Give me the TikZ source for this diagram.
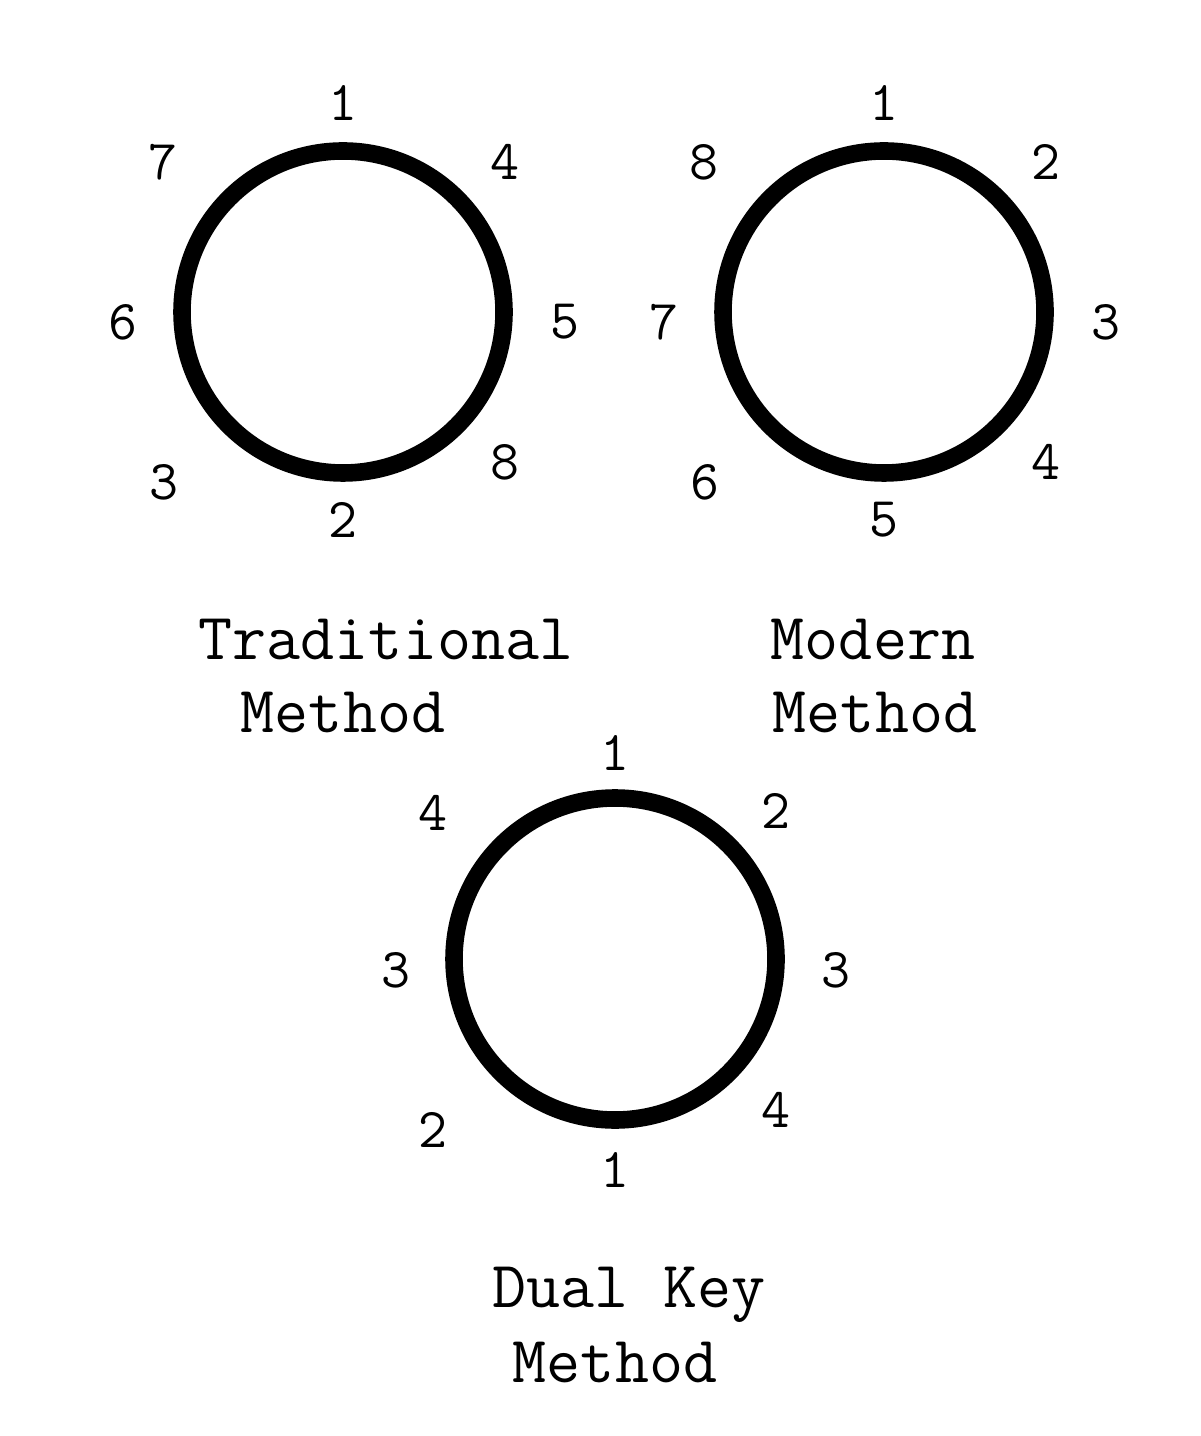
\documentclass[tikz,border=0pt]{standalone}
\begin{document}
\begin{tikzpicture}[
  ring/.style={draw,circle,line width=5pt,minimum size=3.22cm,inner sep=0pt},
  num/.style={font=\ttfamily\fontsize{16}{16}\selectfont},
  caption/.style={font=\ttfamily\fontsize{18.8}{20}\selectfont}]
\useasboundingbox (0,0) rectangle (12,-14.36);

% the three rings
\node[ring] (trad) at (3.43,-3.12) {};
\node[ring] (modern) at (8.84,-3.12) {};
\node[ring] (dual) at (6.15,-9.59) {};

% numbers round each ring
\foreach \x/\y/\n [count=\i] in {0/2.09/1, 1.62/1.50/4, 2.22/-0.10/5, 1.62/-1.50/8,
    0/-2.08/2, -1.79/-1.70/3, -2.20/-0.10/6, -1.80/1.50/7}
  \node[num] (tradn\i) at ([shift={(\x,\y)}]trad.center) {\n};
\foreach \x/\y/\n [count=\i] in {0/2.09/1, 1.62/1.50/2, 2.22/-0.10/3, 1.62/-1.50/4,
    0/-2.08/5, -1.79/-1.70/6, -2.20/-0.10/7, -1.80/1.50/8}
  \node[num] (modernn\i) at ([shift={(\x,\y)}]modern.center) {\n};
\foreach \x/\y/\n [count=\i] in {0/2.06/1, 1.61/1.48/2, 2.21/-0.11/3, 1.61/-1.51/4,
    0/-2.11/1, -1.82/-1.71/2, -2.19/-0.11/3, -1.82/1.46/4}
  \node[num] (dualn\i) at ([shift={(\x,\y)}]dual.center) {\n};

% captions
\node[caption] (tradA) at (3.86,-6.40) {Traditional};
\node[caption] (tradB) at (3.43,-7.13) {Method};
\node[caption] (modernA) at (8.73,-6.40) {Modern};
\node[caption] (modernB) at (8.75,-7.13) {Method};
\node[caption] (dualA) at (6.29,-12.95) {Dual Key};
\node[caption] (dualB) at (6.15,-13.62) {Method};

\end{tikzpicture}
\end{document}
